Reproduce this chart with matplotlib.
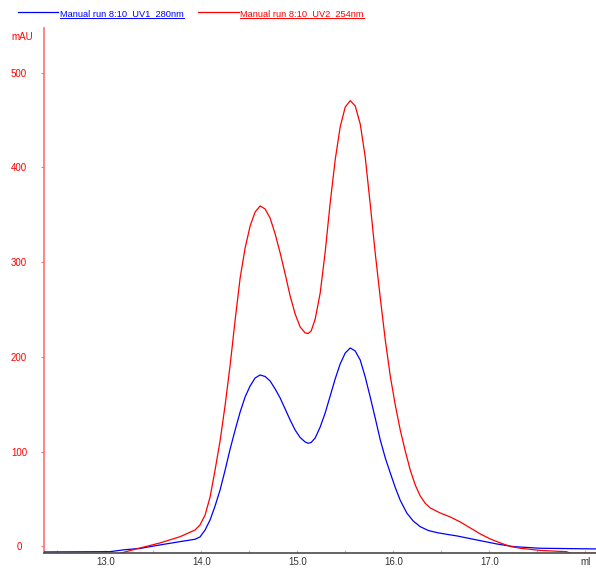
import matplotlib
matplotlib.use("Agg")
import matplotlib.pyplot as plt
from matplotlib.lines import Line2D

plt.rcParams['font.family'] = ['Liberation Sans', 'DejaVu Sans']

# Elution volume (ml) and absorbance (mAU) for the two UV traces
uv2_ml = [13.151, 13.360, 13.568, 13.777, 13.933, 13.985, 14.038, 14.090, 14.142, 14.194,
          14.247, 14.299, 14.351, 14.403, 14.455, 14.507, 14.559, 14.611, 14.663, 14.715,
          14.768, 14.820, 14.872, 14.924, 14.976, 15.028, 15.080, 15.112, 15.143, 15.185,
          15.237, 15.289, 15.341, 15.393, 15.445, 15.498, 15.550, 15.602, 15.654, 15.706,
          15.758, 15.810, 15.863, 15.915, 15.967, 16.019, 16.071, 16.123, 16.175, 16.227,
          16.279, 16.330, 16.384, 16.488, 16.592, 16.697, 16.801, 16.905, 17.009, 17.114,
          17.218, 17.322, 17.531, 17.802, 17.844, 18.115]
uv2_mau = [-7.4, -1.8, 3.5, 10.1, 17.2, 22.5, 33.0, 52.0, 80.5, 111.1,
           149.1, 191.3, 238.8, 283.1, 314.8, 338.0, 352.8, 359.2, 356.0, 346.5,
           329.6, 309.6, 287.4, 264.2, 245.2, 231.5, 225.2, 224.6, 227.2, 239.9,
           267.3, 310.6, 362.3, 407.7, 442.5, 463.6, 470.3, 464.7, 445.7, 410.9,
           361.3, 309.6, 262.1, 217.7, 179.7, 149.1, 122.7, 100.6, 80.5, 64.7,
           53.1, 45.5, 40.4, 35.1, 30.9, 25.6, 19.3, 13.0, 7.7, 3.5,
           -0.2, -2.1, -4.4, -5.7, -7.4, -7.4]

uv1_ml = [12.359, 13.047, 13.203, 13.360, 13.568, 13.777, 13.933, 13.985, 14.038, 14.090,
          14.142, 14.194, 14.247, 14.299, 14.351, 14.403, 14.455, 14.507, 14.559, 14.611,
          14.663, 14.715, 14.768, 14.820, 14.872, 14.924, 14.976, 15.028, 15.080, 15.112,
          15.143, 15.185, 15.237, 15.289, 15.341, 15.393, 15.445, 15.498, 15.550, 15.602,
          15.654, 15.706, 15.758, 15.810, 15.863, 15.915, 15.967, 16.019, 16.071, 16.141,
          16.206, 16.279, 16.362, 16.454, 16.551, 16.662, 16.871, 17.079, 17.252, 17.531,
          18.115]
uv1_mau = [-6.0, -5.7, -3.6, -2.3, 1.4, 4.9, 7.4, 9.8, 17.2, 27.8,
           42.5, 59.4, 80.5, 102.7, 122.7, 141.7, 157.6, 169.2, 177.6, 180.8,
           179.2, 174.5, 166.0, 156.5, 144.9, 133.3, 122.7, 114.8, 110.1, 108.7,
           109.6, 114.3, 125.9, 140.7, 158.6, 176.6, 192.4, 204.0, 209.3, 206.1,
           196.6, 178.7, 157.6, 135.4, 112.2, 93.2, 77.4, 62.0, 48.5, 34.8,
           26.7, 20.7, 16.7, 14.4, 12.7, 10.9, 6.6, 2.4, -0.4, -2.1,
           -2.8]

uv1_name = "Manual run 8:10_UV1_280nm"
uv2_name = "Manual run 8:10_UV2_254nm"

y_ticks = [0, 100, 200, 300, 400, 500]
x_ticks = [12.5, 13.0, 13.5, 14.0, 14.5, 15.0, 15.5, 16.0, 16.5, 17.0, 17.5, 18.0]
x_tick_labels = ["", "13.0", "", "14.0", "", "15.0", "", "16.0", "", "17.0", "", "ml"]

BLUE = "#0000ff"
RED = "#ff0000"
SALMON = "#ff7070"

W, H = 596, 571
fig = plt.figure(figsize=(W / 100, H / 100), dpi=100)
ax = fig.add_axes([44 / W, 1 - 553 / H, (W - 44) / W, (553 - 28) / H])

ax.plot(uv1_ml, uv1_mau, color=BLUE, lw=0.9, zorder=3)
ax.plot(uv2_ml, uv2_mau, color=RED, lw=0.9, zorder=3)

ax.set_xlim(12.36, 18.11)
ax.set_ylim(-7.1, 547)

for side in ("top", "right"):
    ax.spines[side].set_visible(False)
ax.spines["left"].set_color(SALMON)
ax.spines["left"].set_linewidth(1.2)
ax.spines["bottom"].set_color("#4a4a4a")
ax.spines["bottom"].set_linewidth(1.2)
ax.spines["bottom"].set_zorder(4)

ax.set_yticks(y_ticks)
ax.set_yticklabels([str(v) for v in y_ticks])
ax.tick_params(axis="y", direction="out", length=2, width=0.8, color=SALMON,
               labelcolor=RED, labelsize=7, pad=16)
for lab in ax.get_yticklabels():
    lab.set_horizontalalignment("center")
ax.set_xticks(x_ticks)
ax.set_xticklabels(x_tick_labels)
ax.tick_params(axis="x", direction="in", length=2, width=0.8, color="#bbbbbb",
               labelcolor="#333333", labelsize=7, pad=3)

fig.text(22.5 / W, 1 - 37 / H, "mAU", color=RED, fontsize=7, ha="center", va="center")

# Header legend with underlined run names
legend_items = [(uv1_name, BLUE, 18, 58, 60), (uv2_name, RED, 198, 239, 240)]
texts = []
for name, col, x0, x1, tx in legend_items:
    fig.add_artist(Line2D([x0 / W, x1 / W], [1 - 11.5 / H, 1 - 11.5 / H],
                          transform=fig.transFigure, color=col, lw=0.9))
    t = fig.text(tx / W, 1 - 16.5 / H, name, color=col, fontsize=6.7,
                 ha="left", va="baseline")
    texts.append((t, col))

fig.canvas.draw()
renderer = fig.canvas.get_renderer()
for t, col in texts:
    bb = t.get_window_extent(renderer).transformed(fig.transFigure.inverted())
    uy = 1 - 18 / H
    fig.add_artist(Line2D([bb.x0, bb.x1], [uy, uy], transform=fig.transFigure,
                          color=col, lw=0.7))

fig.savefig("out.png", dpi=100)
